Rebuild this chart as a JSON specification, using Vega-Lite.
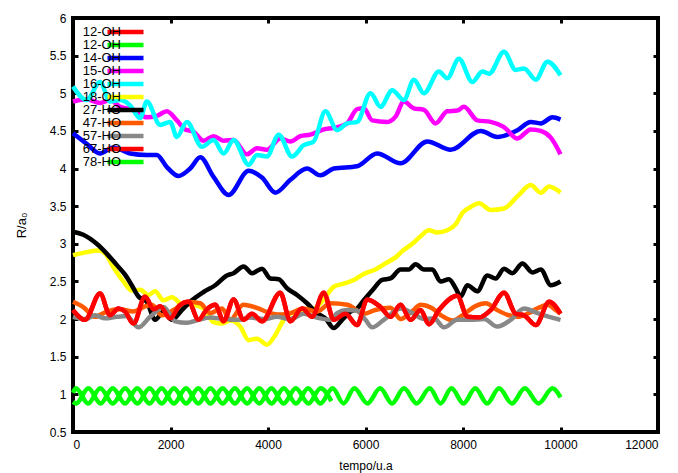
{
  "$schema": "https://vega.github.io/schema/vega-lite/v6.json",
  "width": 585,
  "height": 414,
  "autosize": {"type": "none"},
  "padding": {"left": 73, "top": 18, "right": 20, "bottom": 41},
  "background": "white",
  "config": {
    "view": {"stroke": "black", "strokeWidth": 4},
    "font": "Liberation Sans",
    "axis": {"domain": false, "grid": false, "ticks": true, "tickSize": -5, "tickWidth": 3, "tickColor": "black", "labelFont": "Liberation Sans", "labelFontSize": 12, "labelColor": "black", "titleFont": "Liberation Sans", "titleFontSize": 12, "titleFontWeight": "normal", "titleColor": "black"}
  },
  "data": {"values": [
    {"s":"a 12-OH","t":0,"r":2.12},{"s":"a 12-OH","t":247,"r":1.99},{"s":"a 12-OH","t":555,"r":2.34},{"s":"a 12-OH","t":760,"r":2.05},{"s":"a 12-OH","t":931,"r":2.14},{"s":"a 12-OH","t":1068,"r":2.10},{"s":"a 12-OH","t":1240,"r":1.94},{"s":"a 12-OH","t":1479,"r":2.30},{"s":"a 12-OH","t":1651,"r":2.13},{"s":"a 12-OH","t":1788,"r":2.17},{"s":"a 12-OH","t":1993,"r":2.01},{"s":"a 12-OH","t":2199,"r":2.19},{"s":"a 12-OH","t":2370,"r":2.23},{"s":"a 12-OH","t":2575,"r":1.99},{"s":"a 12-OH","t":2747,"r":2.13},{"s":"a 12-OH","t":2918,"r":2.19},{"s":"a 12-OH","t":3089,"r":1.97},{"s":"a 12-OH","t":3294,"r":2.26},{"s":"a 12-OH","t":3500,"r":1.99},{"s":"a 12-OH","t":3671,"r":2.07},{"s":"a 12-OH","t":3877,"r":1.97},{"s":"a 12-OH","t":4253,"r":2.35},{"s":"a 12-OH","t":4459,"r":1.97},{"s":"a 12-OH","t":4698,"r":2.14},{"s":"a 12-OH","t":4904,"r":2.03},{"s":"a 12-OH","t":5144,"r":2.35},{"s":"a 12-OH","t":5349,"r":1.99},{"s":"a 12-OH","t":5589,"r":2.07},{"s":"a 12-OH","t":5828,"r":1.92},{"s":"a 12-OH","t":6034,"r":2.26},{"s":"a 12-OH","t":6308,"r":2.16},{"s":"a 12-OH","t":6513,"r":2.03},{"s":"a 12-OH","t":6719,"r":2.19},{"s":"a 12-OH","t":6924,"r":1.99},{"s":"a 12-OH","t":7130,"r":2.12},{"s":"a 12-OH","t":7301,"r":1.93},{"s":"a 12-OH","t":7506,"r":2.12},{"s":"a 12-OH","t":7883,"r":2.31},{"s":"a 12-OH","t":8089,"r":2.03},{"s":"a 12-OH","t":8328,"r":2.02},{"s":"a 12-OH","t":8568,"r":2.12},{"s":"a 12-OH","t":8842,"r":2.35},{"s":"a 12-OH","t":9082,"r":2.07},{"s":"a 12-OH","t":9253,"r":2.05},{"s":"a 12-OH","t":9493,"r":1.92},{"s":"a 12-OH","t":9767,"r":2.23},{"s":"a 12-OH","t":10000,"r":2.07},

    {"s":"b 12-OH","t":0,"r":1.02},{"s":"b 12-OH","t":60,"r":1.08},{"s":"b 12-OH","t":310,"r":0.88},{"s":"b 12-OH","t":560,"r":1.08},{"s":"b 12-OH","t":815,"r":0.88},{"s":"b 12-OH","t":1070,"r":1.08},{"s":"b 12-OH","t":1320,"r":0.88},{"s":"b 12-OH","t":1570,"r":1.08},{"s":"b 12-OH","t":1820,"r":0.88},{"s":"b 12-OH","t":2070,"r":1.08},{"s":"b 12-OH","t":2320,"r":0.88},{"s":"b 12-OH","t":2570,"r":1.08},{"s":"b 12-OH","t":2820,"r":0.88},{"s":"b 12-OH","t":3070,"r":1.08},{"s":"b 12-OH","t":3320,"r":0.88},{"s":"b 12-OH","t":3570,"r":1.08},{"s":"b 12-OH","t":3820,"r":0.88},{"s":"b 12-OH","t":4070,"r":1.08},{"s":"b 12-OH","t":4320,"r":0.88},{"s":"b 12-OH","t":4570,"r":1.08},{"s":"b 12-OH","t":4830,"r":0.88},{"s":"b 12-OH","t":5080,"r":1.08},{"s":"b 12-OH","t":5300,"r":0.91},

    {"s":"c 14-OH","t":0,"r":4.47},{"s":"c 14-OH","t":280,"r":4.33},{"s":"c 14-OH","t":555,"r":4.20},{"s":"c 14-OH","t":829,"r":4.28},{"s":"c 14-OH","t":1171,"r":4.20},{"s":"c 14-OH","t":1514,"r":4.18},{"s":"c 14-OH","t":1719,"r":4.18},{"s":"c 14-OH","t":1925,"r":4.02},{"s":"c 14-OH","t":2164,"r":3.90},{"s":"c 14-OH","t":2404,"r":4.00},{"s":"c 14-OH","t":2610,"r":4.15},{"s":"c 14-OH","t":2883,"r":3.89},{"s":"c 14-OH","t":3192,"r":3.65},{"s":"c 14-OH","t":3603,"r":3.97},{"s":"c 14-OH","t":3877,"r":3.88},{"s":"c 14-OH","t":4151,"r":3.68},{"s":"c 14-OH","t":4459,"r":3.85},{"s":"c 14-OH","t":4801,"r":4.00},{"s":"c 14-OH","t":5075,"r":3.91},{"s":"c 14-OH","t":5349,"r":4.00},{"s":"c 14-OH","t":5828,"r":4.03},{"s":"c 14-OH","t":6239,"r":4.20},{"s":"c 14-OH","t":6719,"r":4.07},{"s":"c 14-OH","t":7267,"r":4.36},{"s":"c 14-OH","t":7746,"r":4.25},{"s":"c 14-OH","t":8363,"r":4.50},{"s":"c 14-OH","t":8705,"r":4.42},{"s":"c 14-OH","t":9116,"r":4.51},{"s":"c 14-OH","t":9390,"r":4.62},{"s":"c 14-OH","t":9595,"r":4.60},{"s":"c 14-OH","t":9835,"r":4.68},{"s":"c 14-OH","t":10000,"r":4.65},

    {"s":"d 15-OH","t":0,"r":4.89},{"s":"d 15-OH","t":280,"r":4.92},{"s":"d 15-OH","t":555,"r":4.87},{"s":"d 15-OH","t":760,"r":4.91},{"s":"d 15-OH","t":966,"r":4.82},{"s":"d 15-OH","t":1240,"r":4.78},{"s":"d 15-OH","t":1514,"r":4.68},{"s":"d 15-OH","t":1719,"r":4.70},{"s":"d 15-OH","t":1925,"r":4.76},{"s":"d 15-OH","t":2130,"r":4.64},{"s":"d 15-OH","t":2301,"r":4.52},{"s":"d 15-OH","t":2473,"r":4.49},{"s":"d 15-OH","t":2678,"r":4.37},{"s":"d 15-OH","t":2883,"r":4.43},{"s":"d 15-OH","t":3089,"r":4.37},{"s":"d 15-OH","t":3294,"r":4.38},{"s":"d 15-OH","t":3568,"r":4.19},{"s":"d 15-OH","t":3774,"r":4.27},{"s":"d 15-OH","t":3979,"r":4.25},{"s":"d 15-OH","t":4253,"r":4.40},{"s":"d 15-OH","t":4459,"r":4.36},{"s":"d 15-OH","t":4664,"r":4.43},{"s":"d 15-OH","t":4870,"r":4.45},{"s":"d 15-OH","t":5144,"r":4.52},{"s":"d 15-OH","t":5349,"r":4.54},{"s":"d 15-OH","t":5623,"r":4.60},{"s":"d 15-OH","t":5828,"r":4.79},{"s":"d 15-OH","t":5965,"r":4.80},{"s":"d 15-OH","t":6137,"r":4.64},{"s":"d 15-OH","t":6445,"r":4.62},{"s":"d 15-OH","t":6616,"r":4.69},{"s":"d 15-OH","t":6787,"r":4.89},{"s":"d 15-OH","t":6993,"r":4.80},{"s":"d 15-OH","t":7198,"r":4.78},{"s":"d 15-OH","t":7438,"r":4.60},{"s":"d 15-OH","t":7678,"r":4.76},{"s":"d 15-OH","t":7883,"r":4.77},{"s":"d 15-OH","t":8020,"r":4.82},{"s":"d 15-OH","t":8294,"r":4.64},{"s":"d 15-OH","t":8568,"r":4.62},{"s":"d 15-OH","t":8842,"r":4.55},{"s":"d 15-OH","t":9116,"r":4.40},{"s":"d 15-OH","t":9390,"r":4.52},{"s":"d 15-OH","t":9595,"r":4.50},{"s":"d 15-OH","t":9801,"r":4.41},{"s":"d 15-OH","t":10000,"r":4.19},

    {"s":"e 16-OH","t":0,"r":5.09},{"s":"e 16-OH","t":280,"r":4.91},{"s":"e 16-OH","t":555,"r":5.15},{"s":"e 16-OH","t":760,"r":4.89},{"s":"e 16-OH","t":966,"r":4.91},{"s":"e 16-OH","t":1171,"r":4.84},{"s":"e 16-OH","t":1377,"r":4.67},{"s":"e 16-OH","t":1514,"r":4.89},{"s":"e 16-OH","t":1788,"r":4.58},{"s":"e 16-OH","t":1993,"r":4.62},{"s":"e 16-OH","t":2130,"r":4.42},{"s":"e 16-OH","t":2336,"r":4.62},{"s":"e 16-OH","t":2644,"r":4.29},{"s":"e 16-OH","t":2883,"r":4.38},{"s":"e 16-OH","t":3089,"r":4.20},{"s":"e 16-OH","t":3294,"r":4.38},{"s":"e 16-OH","t":3603,"r":4.05},{"s":"e 16-OH","t":3774,"r":4.18},{"s":"e 16-OH","t":3979,"r":4.16},{"s":"e 16-OH","t":4219,"r":4.45},{"s":"e 16-OH","t":4493,"r":4.16},{"s":"e 16-OH","t":4733,"r":4.31},{"s":"e 16-OH","t":4938,"r":4.36},{"s":"e 16-OH","t":5178,"r":4.76},{"s":"e 16-OH","t":5418,"r":4.51},{"s":"e 16-OH","t":5623,"r":4.60},{"s":"e 16-OH","t":5828,"r":4.62},{"s":"e 16-OH","t":6103,"r":5.00},{"s":"e 16-OH","t":6308,"r":4.82},{"s":"e 16-OH","t":6548,"r":5.04},{"s":"e 16-OH","t":6787,"r":4.91},{"s":"e 16-OH","t":6993,"r":5.18},{"s":"e 16-OH","t":7198,"r":5.00},{"s":"e 16-OH","t":7506,"r":5.29},{"s":"e 16-OH","t":7678,"r":5.20},{"s":"e 16-OH","t":7917,"r":5.46},{"s":"e 16-OH","t":8191,"r":5.15},{"s":"e 16-OH","t":8397,"r":5.29},{"s":"e 16-OH","t":8534,"r":5.26},{"s":"e 16-OH","t":8842,"r":5.55},{"s":"e 16-OH","t":9082,"r":5.31},{"s":"e 16-OH","t":9253,"r":5.33},{"s":"e 16-OH","t":9493,"r":5.18},{"s":"e 16-OH","t":9732,"r":5.42},{"s":"e 16-OH","t":10000,"r":5.24},

    {"s":"f 18-OH","t":0,"r":2.85},{"s":"f 18-OH","t":280,"r":2.89},{"s":"f 18-OH","t":521,"r":2.91},{"s":"f 18-OH","t":658,"r":2.87},{"s":"f 18-OH","t":829,"r":2.69},{"s":"f 18-OH","t":1034,"r":2.50},{"s":"f 18-OH","t":1205,"r":2.38},{"s":"f 18-OH","t":1377,"r":2.39},{"s":"f 18-OH","t":1548,"r":2.32},{"s":"f 18-OH","t":1685,"r":2.37},{"s":"f 18-OH","t":1856,"r":2.25},{"s":"f 18-OH","t":2027,"r":2.29},{"s":"f 18-OH","t":2233,"r":2.20},{"s":"f 18-OH","t":2473,"r":2.19},{"s":"f 18-OH","t":2678,"r":2.14},{"s":"f 18-OH","t":2883,"r":1.96},{"s":"f 18-OH","t":3055,"r":1.94},{"s":"f 18-OH","t":3226,"r":1.98},{"s":"f 18-OH","t":3431,"r":1.90},{"s":"f 18-OH","t":3603,"r":1.72},{"s":"f 18-OH","t":3774,"r":1.74},{"s":"f 18-OH","t":3979,"r":1.66},{"s":"f 18-OH","t":4151,"r":1.79},{"s":"f 18-OH","t":4322,"r":1.99},{"s":"f 18-OH","t":4493,"r":2.08},{"s":"f 18-OH","t":4733,"r":2.10},{"s":"f 18-OH","t":4938,"r":2.13},{"s":"f 18-OH","t":5144,"r":2.26},{"s":"f 18-OH","t":5349,"r":2.43},{"s":"f 18-OH","t":5555,"r":2.47},{"s":"f 18-OH","t":5760,"r":2.52},{"s":"f 18-OH","t":5965,"r":2.60},{"s":"f 18-OH","t":6205,"r":2.66},{"s":"f 18-OH","t":6411,"r":2.74},{"s":"f 18-OH","t":6616,"r":2.82},{"s":"f 18-OH","t":6787,"r":2.92},{"s":"f 18-OH","t":6959,"r":3.00},{"s":"f 18-OH","t":7130,"r":3.10},{"s":"f 18-OH","t":7301,"r":3.18},{"s":"f 18-OH","t":7472,"r":3.15},{"s":"f 18-OH","t":7678,"r":3.18},{"s":"f 18-OH","t":7849,"r":3.26},{"s":"f 18-OH","t":8000,"r":3.42},{"s":"f 18-OH","t":8157,"r":3.49},{"s":"f 18-OH","t":8328,"r":3.54},{"s":"f 18-OH","t":8568,"r":3.45},{"s":"f 18-OH","t":8842,"r":3.47},{"s":"f 18-OH","t":9116,"r":3.63},{"s":"f 18-OH","t":9390,"r":3.78},{"s":"f 18-OH","t":9595,"r":3.68},{"s":"f 18-OH","t":9767,"r":3.76},{"s":"f 18-OH","t":10000,"r":3.68},

    {"s":"g 27-HO","t":0,"r":3.16},{"s":"g 27-HO","t":212,"r":3.12},{"s":"g 27-HO","t":486,"r":3.00},{"s":"g 27-HO","t":692,"r":2.87},{"s":"g 27-HO","t":897,"r":2.72},{"s":"g 27-HO","t":1068,"r":2.59},{"s":"g 27-HO","t":1205,"r":2.45},{"s":"g 27-HO","t":1342,"r":2.30},{"s":"g 27-HO","t":1514,"r":2.23},{"s":"g 27-HO","t":1685,"r":1.99},{"s":"g 27-HO","t":1856,"r":2.10},{"s":"g 27-HO","t":2027,"r":1.99},{"s":"g 27-HO","t":2233,"r":2.12},{"s":"g 27-HO","t":2438,"r":2.25},{"s":"g 27-HO","t":2678,"r":2.36},{"s":"g 27-HO","t":2918,"r":2.45},{"s":"g 27-HO","t":3157,"r":2.58},{"s":"g 27-HO","t":3294,"r":2.61},{"s":"g 27-HO","t":3500,"r":2.70},{"s":"g 27-HO","t":3671,"r":2.61},{"s":"g 27-HO","t":3877,"r":2.67},{"s":"g 27-HO","t":4048,"r":2.54},{"s":"g 27-HO","t":4219,"r":2.53},{"s":"g 27-HO","t":4390,"r":2.41},{"s":"g 27-HO","t":4596,"r":2.32},{"s":"g 27-HO","t":4801,"r":2.21},{"s":"g 27-HO","t":5007,"r":2.08},{"s":"g 27-HO","t":5178,"r":2.01},{"s":"g 27-HO","t":5349,"r":1.88},{"s":"g 27-HO","t":5520,"r":1.99},{"s":"g 27-HO","t":5691,"r":2.10},{"s":"g 27-HO","t":5828,"r":2.14},{"s":"g 27-HO","t":5965,"r":2.25},{"s":"g 27-HO","t":6137,"r":2.38},{"s":"g 27-HO","t":6342,"r":2.52},{"s":"g 27-HO","t":6513,"r":2.54},{"s":"g 27-HO","t":6719,"r":2.66},{"s":"g 27-HO","t":6890,"r":2.66},{"s":"g 27-HO","t":7027,"r":2.73},{"s":"g 27-HO","t":7198,"r":2.66},{"s":"g 27-HO","t":7370,"r":2.66},{"s":"g 27-HO","t":7541,"r":2.50},{"s":"g 27-HO","t":7712,"r":2.53},{"s":"g 27-HO","t":7849,"r":2.41},{"s":"g 27-HO","t":7952,"r":2.30},{"s":"g 27-HO","t":8089,"r":2.45},{"s":"g 27-HO","t":8294,"r":2.37},{"s":"g 27-HO","t":8500,"r":2.58},{"s":"g 27-HO","t":8671,"r":2.54},{"s":"g 27-HO","t":8842,"r":2.67},{"s":"g 27-HO","t":9013,"r":2.61},{"s":"g 27-HO","t":9219,"r":2.74},{"s":"g 27-HO","t":9424,"r":2.62},{"s":"g 27-HO","t":9595,"r":2.66},{"s":"g 27-HO","t":9801,"r":2.45},{"s":"g 27-HO","t":10000,"r":2.50},

    {"s":"h 47-HO","t":0,"r":2.23},{"s":"h 47-HO","t":212,"r":2.16},{"s":"h 47-HO","t":452,"r":2.03},{"s":"h 47-HO","t":692,"r":2.10},{"s":"h 47-HO","t":966,"r":2.13},{"s":"h 47-HO","t":1240,"r":2.10},{"s":"h 47-HO","t":1445,"r":2.16},{"s":"h 47-HO","t":1616,"r":2.19},{"s":"h 47-HO","t":1822,"r":2.05},{"s":"h 47-HO","t":2062,"r":2.12},{"s":"h 47-HO","t":2336,"r":2.23},{"s":"h 47-HO","t":2610,"r":2.21},{"s":"h 47-HO","t":2815,"r":2.08},{"s":"h 47-HO","t":3055,"r":2.14},{"s":"h 47-HO","t":3226,"r":1.99},{"s":"h 47-HO","t":3494,"r":2.19},{"s":"h 47-HO","t":3768,"r":2.15},{"s":"h 47-HO","t":4000,"r":2.09},{"s":"h 47-HO","t":4253,"r":2.06},{"s":"h 47-HO","t":4459,"r":2.08},{"s":"h 47-HO","t":4733,"r":2.14},{"s":"h 47-HO","t":5007,"r":2.10},{"s":"h 47-HO","t":5281,"r":2.21},{"s":"h 47-HO","t":5630,"r":2.19},{"s":"h 47-HO","t":5960,"r":2.07},{"s":"h 47-HO","t":6200,"r":2.12},{"s":"h 47-HO","t":6513,"r":2.15},{"s":"h 47-HO","t":6720,"r":2.00},{"s":"h 47-HO","t":6950,"r":2.10},{"s":"h 47-HO","t":7130,"r":2.19},{"s":"h 47-HO","t":7350,"r":2.15},{"s":"h 47-HO","t":7550,"r":2.05},{"s":"h 47-HO","t":7790,"r":1.98},{"s":"h 47-HO","t":8050,"r":2.08},{"s":"h 47-HO","t":8250,"r":2.17},{"s":"h 47-HO","t":8465,"r":2.21},{"s":"h 47-HO","t":8700,"r":2.12},{"s":"h 47-HO","t":8900,"r":2.06},{"s":"h 47-HO","t":9120,"r":2.03},{"s":"h 47-HO","t":9350,"r":2.08},{"s":"h 47-HO","t":9550,"r":2.15},{"s":"h 47-HO","t":9740,"r":2.19},{"s":"h 47-HO","t":9900,"r":2.12},{"s":"h 47-HO","t":10000,"r":2.07},

    {"s":"i 57-HO","t":0,"r":2.03},{"s":"i 57-HO","t":247,"r":2.00},{"s":"i 57-HO","t":452,"r":2.05},{"s":"i 57-HO","t":658,"r":2.01},{"s":"i 57-HO","t":897,"r":2.03},{"s":"i 57-HO","t":1103,"r":2.04},{"s":"i 57-HO","t":1342,"r":1.89},{"s":"i 57-HO","t":1582,"r":2.03},{"s":"i 57-HO","t":1856,"r":2.16},{"s":"i 57-HO","t":2096,"r":1.97},{"s":"i 57-HO","t":2336,"r":1.95},{"s":"i 57-HO","t":2575,"r":1.99},{"s":"i 57-HO","t":2815,"r":2.02},{"s":"i 57-HO","t":3089,"r":2.00},{"s":"i 57-HO","t":3363,"r":1.99},{"s":"i 57-HO","t":3637,"r":2.02},{"s":"i 57-HO","t":3911,"r":2.00},{"s":"i 57-HO","t":4185,"r":2.03},{"s":"i 57-HO","t":4459,"r":2.00},{"s":"i 57-HO","t":4733,"r":2.07},{"s":"i 57-HO","t":5007,"r":2.02},{"s":"i 57-HO","t":5281,"r":1.99},{"s":"i 57-HO","t":5418,"r":2.08},{"s":"i 57-HO","t":5623,"r":2.12},{"s":"i 57-HO","t":5828,"r":2.11},{"s":"i 57-HO","t":5999,"r":1.99},{"s":"i 57-HO","t":6137,"r":1.89},{"s":"i 57-HO","t":6376,"r":1.99},{"s":"i 57-HO","t":6719,"r":2.14},{"s":"i 57-HO","t":6959,"r":2.08},{"s":"i 57-HO","t":7198,"r":2.00},{"s":"i 57-HO","t":7404,"r":2.01},{"s":"i 57-HO","t":7609,"r":1.89},{"s":"i 57-HO","t":7883,"r":1.99},{"s":"i 57-HO","t":8157,"r":1.99},{"s":"i 57-HO","t":8431,"r":2.00},{"s":"i 57-HO","t":8705,"r":1.90},{"s":"i 57-HO","t":8979,"r":1.99},{"s":"i 57-HO","t":9253,"r":2.14},{"s":"i 57-HO","t":9527,"r":2.08},{"s":"i 57-HO","t":9767,"r":2.03},{"s":"i 57-HO","t":10000,"r":1.99},

    {"s":"j 67-HO","t":0,"r":2.12},{"s":"j 67-HO","t":247,"r":1.99},{"s":"j 67-HO","t":555,"r":2.34},{"s":"j 67-HO","t":760,"r":2.05},{"s":"j 67-HO","t":931,"r":2.14},{"s":"j 67-HO","t":1068,"r":2.10},{"s":"j 67-HO","t":1240,"r":1.94},{"s":"j 67-HO","t":1479,"r":2.30},{"s":"j 67-HO","t":1651,"r":2.13},{"s":"j 67-HO","t":1788,"r":2.17},{"s":"j 67-HO","t":1993,"r":2.01},{"s":"j 67-HO","t":2199,"r":2.19},{"s":"j 67-HO","t":2370,"r":2.23},{"s":"j 67-HO","t":2575,"r":1.99},{"s":"j 67-HO","t":2747,"r":2.13},{"s":"j 67-HO","t":2918,"r":2.19},{"s":"j 67-HO","t":3089,"r":1.97},{"s":"j 67-HO","t":3294,"r":2.26},{"s":"j 67-HO","t":3500,"r":1.99},{"s":"j 67-HO","t":3671,"r":2.07},{"s":"j 67-HO","t":3877,"r":1.97},{"s":"j 67-HO","t":4253,"r":2.35},{"s":"j 67-HO","t":4459,"r":1.97},{"s":"j 67-HO","t":4698,"r":2.14},{"s":"j 67-HO","t":4904,"r":2.03},{"s":"j 67-HO","t":5144,"r":2.35},{"s":"j 67-HO","t":5349,"r":1.99},{"s":"j 67-HO","t":5589,"r":2.07},{"s":"j 67-HO","t":5828,"r":1.92},{"s":"j 67-HO","t":6034,"r":2.26},{"s":"j 67-HO","t":6308,"r":2.16},{"s":"j 67-HO","t":6513,"r":2.03},{"s":"j 67-HO","t":6719,"r":2.19},{"s":"j 67-HO","t":6924,"r":1.99},{"s":"j 67-HO","t":7130,"r":2.12},{"s":"j 67-HO","t":7301,"r":1.93},{"s":"j 67-HO","t":7506,"r":2.12},{"s":"j 67-HO","t":7883,"r":2.31},{"s":"j 67-HO","t":8089,"r":2.03},{"s":"j 67-HO","t":8328,"r":2.02},{"s":"j 67-HO","t":8568,"r":2.12},{"s":"j 67-HO","t":8842,"r":2.35},{"s":"j 67-HO","t":9082,"r":2.07},{"s":"j 67-HO","t":9253,"r":2.05},{"s":"j 67-HO","t":9493,"r":1.92},{"s":"j 67-HO","t":9767,"r":2.23},{"s":"j 67-HO","t":10000,"r":2.07},

    {"s":"k 78-HO","t":0,"r":0.90},{"s":"k 78-HO","t":65,"r":0.88},{"s":"k 78-HO","t":315,"r":1.08},{"s":"k 78-HO","t":566,"r":0.88},{"s":"k 78-HO","t":816,"r":1.08},{"s":"k 78-HO","t":1067,"r":0.88},{"s":"k 78-HO","t":1317,"r":1.08},{"s":"k 78-HO","t":1568,"r":0.88},{"s":"k 78-HO","t":1818,"r":1.08},{"s":"k 78-HO","t":2069,"r":0.88},{"s":"k 78-HO","t":2319,"r":1.08},{"s":"k 78-HO","t":2570,"r":0.88},{"s":"k 78-HO","t":2820,"r":1.08},{"s":"k 78-HO","t":3071,"r":0.88},{"s":"k 78-HO","t":3321,"r":1.08},{"s":"k 78-HO","t":3572,"r":0.88},{"s":"k 78-HO","t":3822,"r":1.08},{"s":"k 78-HO","t":4073,"r":0.88},{"s":"k 78-HO","t":4323,"r":1.08},{"s":"k 78-HO","t":4574,"r":0.88},{"s":"k 78-HO","t":4824,"r":1.08},{"s":"k 78-HO","t":5075,"r":0.88},{"s":"k 78-HO","t":5325,"r":1.08},{"s":"k 78-HO","t":5550,"r":0.88},{"s":"k 78-HO","t":5772,"r":1.08},{"s":"k 78-HO","t":6040,"r":0.88},{"s":"k 78-HO","t":6301,"r":1.08},{"s":"k 78-HO","t":6545,"r":0.88},{"s":"k 78-HO","t":6789,"r":1.08},{"s":"k 78-HO","t":7050,"r":0.88},{"s":"k 78-HO","t":7317,"r":1.08},{"s":"k 78-HO","t":7540,"r":0.88},{"s":"k 78-HO","t":7764,"r":1.08},{"s":"k 78-HO","t":8010,"r":0.88},{"s":"k 78-HO","t":8252,"r":1.08},{"s":"k 78-HO","t":8495,"r":0.88},{"s":"k 78-HO","t":8740,"r":1.08},{"s":"k 78-HO","t":9005,"r":0.88},{"s":"k 78-HO","t":9268,"r":1.08},{"s":"k 78-HO","t":9550,"r":0.88},{"s":"k 78-HO","t":9837,"r":1.08},{"s":"k 78-HO","t":10000,"r":0.96}
  ]},
  "layer": [
    {
      "mark": {"type": "line", "strokeWidth": 4.5, "interpolate": "monotone"},
      "encoding": {
        "x": {"field": "t", "type": "quantitative", "scale": {"domain": [0, 12000], "nice": false, "zero": false},
              "axis": {"orient": "bottom", "values": [0,2000,4000,6000,8000,10000,12000], "format": "d", "title": "tempo/u.a", "labelPadding": 12, "titlePadding": 10}},
        "y": {"field": "r", "type": "quantitative", "scale": {"domain": [0.5, 6], "nice": false, "zero": false},
              "axis": {"orient": "left", "values": [0.5,1,1.5,2,2.5,3,3.5,4,4.5,5,5.5,6], "title": "R/a₀", "titleFontSize": 13, "labelPadding": 12, "titlePadding": 21, "format": "~g"}},
        "color": {"field": "s", "type": "nominal",
          "scale": {"domain": ["a 12-OH","b 12-OH","c 14-OH","d 15-OH","e 16-OH","f 18-OH","g 27-HO","h 47-HO","i 57-HO","j 67-HO","k 78-HO"],
                    "range": ["#ff0000","#00ff00","#0000ff","#ff00ff","#00ffff","#ffff00","#000000","#ff5a00","#888888","#ff0000","#00ff00"]},
          "legend": {"orient": "none", "legendX": 7, "legendY": 8, "title": null, "symbolType": "M-36,0H36", "symbolSize": 1, "symbolStrokeWidth": 4.5, "symbolOffset": 39, "labelFontSize": 13, "labelFont": "Liberation Sans", "labelColor": "black", "labelAlign": "right", "labelOffset": -11, "rowPadding": 0, "clipHeight": 12, "padding": 0, "labelExpr": "substring(datum.label, 2)",
                     "encode": {"entries": {"update": {"width": {"value": 100}}}}}}
      }
    },
    {
      "mark": {"type": "point", "opacity": 0},
      "encoding": {
        "x": {"field": "t", "type": "quantitative", "axis": {"orient": "top", "values": [0,2000,4000,6000,8000,10000,12000], "labels": false, "title": null}},
        "y": {"field": "r", "type": "quantitative", "axis": {"orient": "right", "values": [0.5,1,1.5,2,2.5,3,3.5,4,4.5,5,5.5,6], "labels": false, "title": null}}
      }
    }
  ],
  "resolve": {"axis": {"x": "independent", "y": "independent"}}
}
